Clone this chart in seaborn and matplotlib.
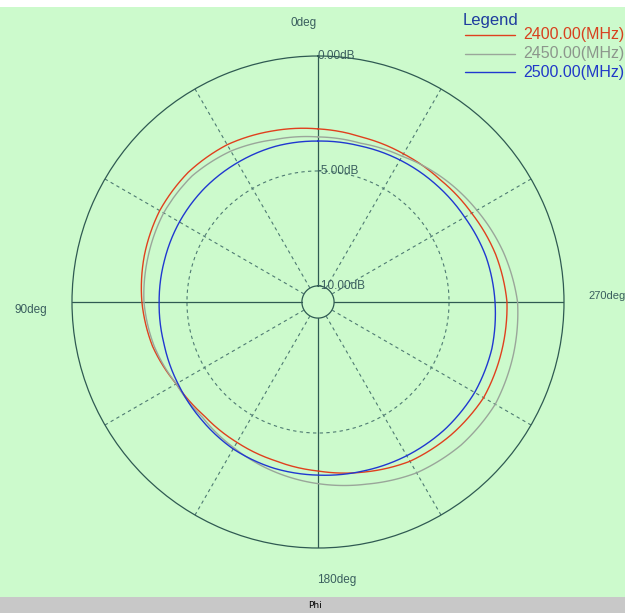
import numpy as np
import pandas as pd
import matplotlib
matplotlib.use("Agg")
import matplotlib.pyplot as plt
from matplotlib.patches import Rectangle
from matplotlib.lines import Line2D
import seaborn as sns

# Azimuth cut (Phi), gain in dB at 15 degree steps
phi_deg = [0, 15, 30, 45, 60, 75, 90, 105, 120, 135, 150, 165,
           180, 195, 210, 225, 240, 255, 270, 285, 300, 315, 330, 345]
gain_2400 = [-3.17, -3.00, -2.80, -2.72, -2.75, -2.88, -3.04, -3.25, -3.58, -3.70, -3.65, -3.55,
             -3.35, -3.04, -2.70, -2.52, -2.38, -2.43, -2.48, -2.70, -2.98, -3.18, -3.26, -3.28]
gain_2450 = [-3.52, -3.39, -3.12, -2.95, -2.95, -3.05, -3.13, -3.32, -3.58, -3.60, -3.38, -3.09,
             -2.80, -2.50, -2.12, -1.90, -1.80, -1.90, -2.02, -2.35, -2.72, -3.05, -3.38, -3.55]
gain_2500 = [-3.70, -3.68, -3.70, -3.71, -3.74, -3.78, -3.79, -3.76, -3.65, -3.50, -3.32, -3.22,
             -3.17, -3.09, -2.98, -2.88, -2.83, -2.87, -3.00, -3.13, -3.33, -3.46, -3.57, -3.67]

freq_labels = ["2400.00(MHz)", "2450.00(MHz)", "2500.00(MHz)"]
series_colors = ["#E0401E", "#9AA69A", "#2038D0"]
text_colors = ["#D8401E", "#8C968C", "#2038C8"]

ring_levels = [0, -5, -10]
ring_labels = ["0.00dB", "-5.00dB", "-10.00dB"]
angle_labels = ["0deg", "90deg", "180deg", "270deg"]

# long table for seaborn, each trace closed back at 360 deg
rows = []
for lab, g in zip(freq_labels, [gain_2400, gain_2450, gain_2500]):
    for p, v in zip(phi_deg + [360], g + [g[0]]):
        rows.append({"theta": np.deg2rad(p), "gain": v, "freq": lab})
df = pd.DataFrame(rows)

sns.set_style("white")
plt.rcParams["font.family"] = ["Liberation Sans", "DejaVu Sans"]

W, H = 625, 613
BG = "#CCFACC"
GRID = "#2F5A52"
DASH = "#4E7A72"
LABEL = "#3A5E5E"

fig = plt.figure(figsize=(W / 100, H / 100), dpi=100, facecolor=BG)

def fx(px):
    return px / W

def fy(py):
    return 1 - py / H

# top white strip and bottom status bar
fig.add_artist(Rectangle((0, fy(7)), 1, 7 / H, transform=fig.transFigure,
                         facecolor="white", edgecolor="none", zorder=0))
fig.add_artist(Rectangle((0, 0), 1, 16 / H, transform=fig.transFigure,
                         facecolor="#C8C8C8", edgecolor="none", zorder=0))
fig.text(fx(315), fy(605), "Phi", fontsize=6.5, color="black", ha="center", va="center",
         family=["DejaVu Sans"])

cx, cy, R = 318, 302, 246
ax = fig.add_axes([fx(cx - R), fy(cy + R), 2 * R / W, 2 * R / H], projection="polar")
ax.set_facecolor("none")
ax.set_theta_zero_location("N")
ax.set_theta_direction(1)

sns.lineplot(data=df, x="theta", y="gain", hue="freq", hue_order=freq_labels,
             palette=series_colors, sort=False, estimator=None, linewidth=1.0,
             legend=False, ax=ax, zorder=5)
# follow the angular direction between samples instead of straight chords
for ln in ax.lines:
    ln.get_path()._interpolation_steps = 40

ax.set_ylim(-10.7, 0)
ax.grid(False)
ax.set_xticks([])
ax.set_yticks([])
ax.set_xlabel("")
ax.set_ylabel("")
ax.spines["polar"].set_color(GRID)
ax.spines["polar"].set_linewidth(0.9)

full = np.linspace(0, 2 * np.pi, 721)
ax.plot(full, np.full_like(full, -5.0), color=DASH, lw=0.8, ls=(0, (3, 3)), zorder=2)
ax.plot(full, np.full_like(full, -10.0), color=GRID, lw=0.9, zorder=2)

for a in range(0, 360, 30):
    t = np.deg2rad(a)
    if a % 90 == 0:
        ax.plot([t, t], [-10, 0], color=GRID, lw=0.9, zorder=2)
    else:
        ax.plot([t, t], [-10, 0], color=DASH, lw=0.8, ls=(0, (3, 3)), zorder=2)

for lev, lab in zip(ring_levels, ring_labels):
    ax.text(0, lev, lab, fontsize=8.5, color=LABEL, ha="left", va="center", zorder=4)

# angle captions
angle_pos = [(304, 23, "center"), (31, 310, "center"), (337, 580, "center"), (588, 296, "left")]
for lab, (px, py, ha) in zip(angle_labels, angle_pos):
    fs = 8 if ha == "left" else 8.5
    fig.text(fx(px), fy(py), lab, fontsize=fs, color=LABEL, ha=ha, va="center")

# legend block
fig.text(fx(463), fy(20), "Legend", fontsize=12, color="#1E3C9E", ha="left", va="center")
for i, (lab, lc, tc) in enumerate(zip(freq_labels, series_colors, text_colors)):
    y = fy(35 + 18.5 * i)
    fig.add_artist(Line2D([fx(465), fx(515)], [y, y], color=lc, lw=1.0,
                          transform=fig.transFigure))
    fig.text(fx(624), y, lab, fontsize=11.5, color=tc, ha="right", va="center")

fig.savefig("out.png", dpi=100, facecolor=BG)
